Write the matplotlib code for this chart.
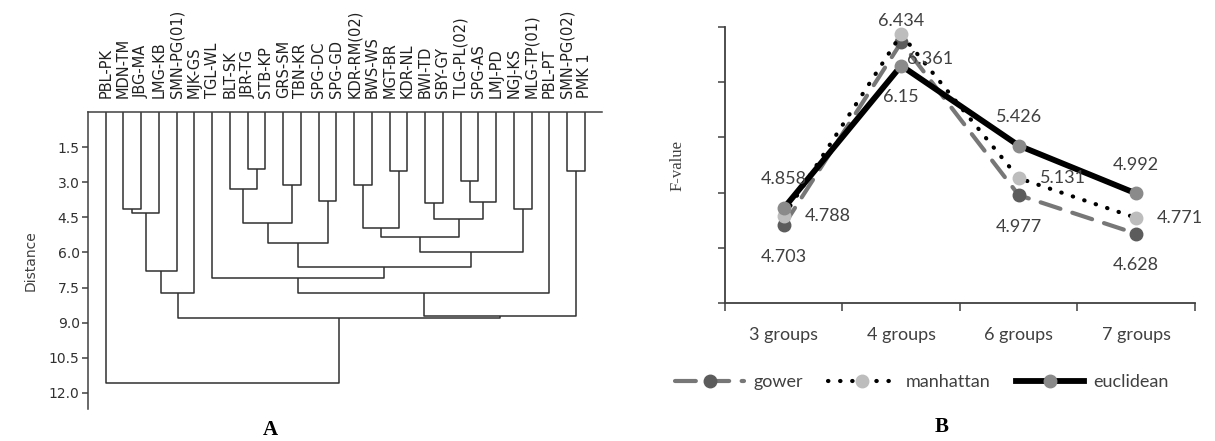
import numpy as np
import matplotlib
matplotlib.use("Agg")
import matplotlib.pyplot as plt

# ---- donnees du dendrogramme (A) ----
leaf_labels = ["PBL-PK", "MDN-TM", "JBG-MA", "LMG-KB", "SMN-PG(01)", "MJK-GS",
               "TGL-WL", "BLT-SK", "JBR-TG", "STB-KP", "GRS-SM", "TBN-KR",
               "SPG-DC", "SPG-GD", "KDR-RM(02)", "BWS-WS", "MGT-BR", "KDR-NL",
               "BWI-TD", "SBY-GY", "TLG-PL(02)", "SPG-AS", "LMJ-PD", "NGJ-KS",
               "MLG-TP(01)", "PBL-PT", "SMN-PG(02)", "PMK 1"]

# fusions : (noeud gauche, noeud droit, distance) ; les noeuds 28+ sont les fusions precedentes
merges = [
    (8, 9, 2.43),     # 28
    (16, 17, 2.50),   # 29
    (26, 27, 2.50),   # 30
    (20, 21, 2.96),   # 31
    (7, 28, 3.30),    # 32
    (10, 11, 3.12),   # 33
    (14, 15, 3.12),   # 34
    (12, 13, 3.80),   # 35
    (31, 22, 3.85),   # 36
    (18, 19, 3.90),   # 37
    (1, 2, 4.15),     # 38
    (23, 24, 4.15),   # 39
    (38, 3, 4.33),    # 40
    (37, 36, 4.56),   # 41
    (32, 33, 4.74),   # 42
    (34, 29, 4.96),   # 43
    (43, 41, 5.34),   # 44
    (42, 35, 5.60),   # 45
    (44, 39, 5.98),   # 46
    (45, 46, 6.63),   # 47
    (40, 4, 6.80),    # 48
    (6, 47, 7.10),    # 49
    (48, 5, 7.73),    # 50
    (49, 25, 7.73),   # 51
    (51, 30, 8.70),   # 52
    (50, 52, 8.80),   # 53
    (0, 53, 11.60),   # 54
]
dist_ticks = [1.5, 3.0, 4.5, 6.0, 7.5, 9.0, 10.5, 12.0]

# ---- donnees des F-values (B) ----
groups = ["3 groups", "4 groups", "6 groups", "7 groups"]
gower = [4.703, 6.361, 4.977, 4.628]
manhattan = [4.788, 6.434, 5.131, 4.771]
euclidean = [4.858, 6.15, 5.426, 4.992]

fig = plt.figure(figsize=(12.15, 4.41), dpi=100)

# ================= A : dendrogramme =================
axA = fig.add_axes([0.0724, 0.0726, 0.4231, 0.6734])
line_col = "#303030"
node_x = list(range(len(leaf_labels)))
node_h = [0.0] * len(leaf_labels)
for a, b, h in merges:
    xa, xb = node_x[a], node_x[b]
    axA.plot([xa, xa, xb, xb], [node_h[a], h, h, node_h[b]],
             color=line_col, lw=1.1, solid_capstyle="butt")
    node_x.append((xa + xb) / 2.0)
    node_h.append(h)

axA.set_xlim(-1.0, len(leaf_labels) - 0.04)
axA.set_ylim(12.69, 0)
for s in ["bottom", "right"]:
    axA.spines[s].set_visible(False)
for s in ["left", "top"]:
    axA.spines[s].set_color("#404040")
    axA.spines[s].set_linewidth(1.1)
axA.xaxis.tick_top()
axA.set_xticks(range(len(leaf_labels)))
axA.set_xticklabels(leaf_labels, rotation=90, fontsize=10.5, color="#202020")
axA.tick_params(axis="x", length=0, pad=10)
axA.set_yticks(dist_ticks)
axA.set_yticklabels([f"{v:.1f}" for v in dist_ticks], fontsize=10, color="#303030")
axA.tick_params(axis="y", length=4, width=1.1, color="#404040", pad=2)
axA.set_ylabel("Distance", fontsize=10, color="#404040", labelpad=8)

fig.text(270 / 1215, 1 - 430 / 441, "A", ha="center", va="center",
         fontsize=15, fontweight="bold", family="Liberation Serif")

# ================= B : F-value =================
axB = fig.add_axes([0.5967, 0.3129, 0.3868, 0.6259])
xs = np.arange(len(groups))
axB.plot(xs, gower, color="#777777", lw=3.0, dashes=(5, 3), dash_capstyle="round",
         marker="o", ms=9, mfc="#5c5c5c", mec="#5c5c5c", label="gower", zorder=3)
axB.plot(xs, manhattan, color="black", lw=3.0, dashes=(0.1, 2.8), dash_capstyle="round",
         marker="o", ms=9, mfc="#bdbdbd", mec="#bdbdbd", label="manhattan", zorder=4)
axB.plot(xs, euclidean, color="black", lw=4.2,
         marker="o", ms=9, mfc="#8a8a8a", mec="#8a8a8a", label="euclidean", zorder=5)

# placement des etiquettes : a = au-dessus, b = en dessous, r = a droite,
# A = juste au-dessus, R = a droite un peu plus bas
place = {
    "gower": ["b", "R", "b", "b"],
    "manhattan": ["r", "A", "r", "r"],
    "euclidean": ["a", "b", "a", "a"],
}
offs = {"a": (0, 15, "center", "bottom"), "b": (0, -17, "center", "top"),
        "r": (15, 0, "left", "center"), "A": (0, 4, "center", "bottom"),
        "R": (4, -12, "left", "center")}
for name, vals in [("gower", gower), ("manhattan", manhattan), ("euclidean", euclidean)]:
    for i, v in enumerate(vals):
        dx, dy, ha, va = offs[place[name][i]]
        axB.annotate(f"{v:g}", (xs[i], v), xytext=(dx, dy), textcoords="offset points",
                     ha=ha, va=va, fontsize=13, color="#404040", family="Lato", zorder=6)

axB.set_xlim(-0.5, len(groups) - 0.5)
axB.set_ylim(4.0, 6.5)
axB.set_yticks(np.arange(4.0, 6.51, 0.5))
axB.set_yticklabels([])
axB.tick_params(axis="y", length=5, width=1.1, color="#404040")
axB.set_xticks(xs)
axB.set_xticklabels(groups, fontsize=13, color="#404040", family="Lato")
axB.set_xticks(np.arange(-0.5, len(groups)), minor=True)
axB.tick_params(axis="x", which="major", length=0, pad=17)
axB.tick_params(axis="x", which="minor", length=6, width=1.1, color="#404040")
for s in ["top", "right"]:
    axB.spines[s].set_visible(False)
for s in ["left", "bottom"]:
    axB.spines[s].set_color("#404040")
    axB.spines[s].set_linewidth(1.3)
axB.set_ylabel("F-value", fontsize=12, family="Liberation Serif", color="#404040", labelpad=20)

leg = axB.legend(loc="center", bbox_to_anchor=(922 / 1215, 1 - 382 / 441),
                 bbox_transform=fig.transFigure, ncol=3, frameon=False,
                 handlelength=3.8, handletextpad=0.5, columnspacing=1.4,
                 prop={"family": "Lato", "size": 13})
for t in leg.get_texts():
    t.set_color("#404040")

fig.text(942 / 1215, 1 - 427 / 441, "B", ha="center", va="center",
         fontsize=15, fontweight="bold", family="Liberation Serif")

fig.savefig("out.png", dpi=100)
